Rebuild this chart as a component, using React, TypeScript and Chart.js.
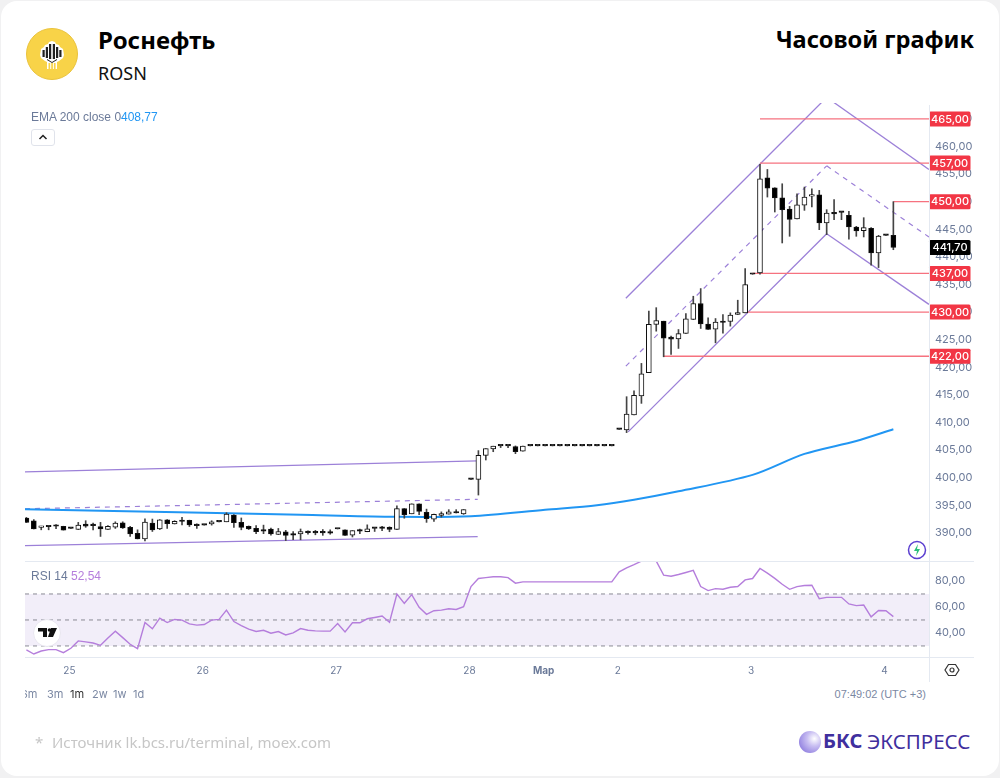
import { Chart, registerables } from 'chart.js'
import { useEffect, useRef } from 'react'

Chart.register(...registerables)

// hourly bars, index 0 is the first visible candle
const opens = [
  392.67, 392.2, 391.0, 391.1, 391.2, 391.2, 390.8, 390.6, 391.6, 391.3,
  391.15, 390.6, 391.05, 391.8, 391.0, 389.9, 388.9, 391.75, 390.7, 392.35,
  391.6, 392.05, 392.25, 391.35, 391.4, 391.6, 392.0, 392.0, 393.2, 391.9,
  391.2, 390.8, 390.4, 390.7, 389.7, 390.2, 389.6, 389.8, 390.05, 390.0,
  390.0, 389.95, 390.7, 390.55, 389.6, 390.3, 390.2, 390.8, 390.8, 391.0,
  390.6, 394.4, 393.45, 395.25, 393.7, 392.5, 393.15, 393.4, 393.75, 393.45,
  399.7, 399.7, 404.05, 405.2, 405.75, 405.75, 405.65, 404.8, 405.75, 405.75,
  405.75, 405.75, 405.75, 405.75, 405.75, 405.75, 405.75, 405.75, 405.75, 405.75,
  408.76, 408.64, 411.35, 414.79, 419.0, 427.75, 428.35, 425.46, 425.15, 426.12,
  428.65, 431.55, 427.81, 426.9, 428.11, 428.3, 429.56, 429.86, 436.85, 437.1,
  454.34, 452.53, 450.72, 448.67, 446.86, 449.39, 451.0, 451.26, 446.14, 448.07,
  448.07, 447.52, 445.42, 444.75, 445.17, 440.71, 443.9, 443.9,
]
const highs = [
  392.8, 392.4, 391.2, 391.16, 391.5, 391.2, 390.8, 391.9, 392.2, 391.75,
  391.9, 391.3, 392.0, 392.0, 391.2, 390.55, 392.55, 392.5, 392.4, 392.4,
  392.2, 392.8, 392.3, 391.65, 391.4, 392.2, 392.0, 393.65, 393.3, 392.7,
  391.25, 391.3, 391.4, 390.85, 390.8, 390.45, 390.25, 390.7, 390.35, 390.45,
  390.6, 390.55, 390.7, 390.55, 390.4, 390.7, 391.45, 390.8, 391.2, 391.1,
  394.9, 394.4, 395.25, 395.25, 394.3, 393.4, 393.8, 394.2, 394.2, 394.2,
  399.7, 404.9, 405.25, 405.7, 405.75, 405.75, 405.75, 405.7, 405.75, 405.75,
  405.75, 405.75, 405.75, 405.75, 405.75, 405.75, 405.75, 405.75, 405.75, 405.75,
  408.76, 414.67, 415.75, 420.7, 430.16, 430.8, 428.35, 425.64, 426.84, 429.74,
  432.87, 434.26, 428.95, 428.83, 429.56, 429.86, 432.15, 437.87, 436.85, 456.75,
  455.84, 452.53, 453.25, 449.15, 451.44, 452.65, 452.35, 452.05, 448.55, 450.36,
  448.07, 448.25, 445.54, 447.1, 445.3, 443.9, 443.9, 450.0,
]
const lows = [
  391.88, 390.7, 390.55, 390.55, 390.75, 390.5, 390.8, 390.6, 391.0, 390.55,
  389.35, 390.6, 390.8, 390.8, 389.35, 388.9, 388.55, 390.25, 390.6, 390.8,
  391.6, 391.45, 391.15, 390.8, 391.4, 391.4, 392.0, 392.0, 391.0, 390.55,
  390.6, 389.85, 389.85, 389.6, 389.7, 388.6, 388.75, 388.75, 389.75, 389.65,
  389.55, 389.75, 390.7, 389.55, 389.25, 389.85, 390.2, 390.25, 390.4, 390.2,
  390.6, 392.65, 393.45, 393.3, 391.9, 392.05, 392.85, 393.4, 393.6, 393.35,
  399.7, 396.85, 403.2, 404.7, 405.45, 405.45, 404.35, 404.8, 405.75, 405.75,
  405.75, 405.75, 405.75, 405.75, 405.75, 405.75, 405.75, 405.75, 405.75, 405.75,
  408.76, 408.16, 411.35, 413.46, 419.0, 426.54, 421.9, 422.32, 423.41, 426.12,
  428.65, 427.03, 426.84, 424.43, 426.18, 427.45, 429.56, 429.86, 436.85, 436.85,
  450.84, 448.13, 442.52, 443.73, 446.86, 448.43, 449.03, 444.93, 444.03, 446.74,
  446.74, 443.19, 443.73, 443.61, 438.5, 438.06, 443.9, 441.3,
]
const closes = [
  391.88, 390.7, 391.1, 391.1, 391.2, 390.5, 390.8, 391.4, 391.2, 391.3,
  390.7, 391.2, 391.75, 390.9, 389.8, 388.9, 391.95, 390.55, 392.35, 391.65,
  392.1, 392.05, 391.45, 391.3, 391.4, 392.0, 392.0, 393.4, 391.85, 391.0,
  390.7, 390.2, 390.3, 389.8, 390.25, 389.55, 389.6, 390.25, 390.05, 390.0,
  390.0, 389.95, 390.7, 389.55, 390.4, 390.3, 390.75, 390.8, 390.8, 390.6,
  394.4, 393.3, 395.25, 393.9, 392.55, 393.35, 393.5, 393.8, 393.6, 394.2,
  399.7, 404.05, 405.25, 405.7, 405.75, 405.75, 404.7, 405.7, 405.75, 405.75,
  405.75, 405.75, 405.75, 405.75, 405.75, 405.75, 405.75, 405.75, 405.75, 405.75,
  408.76, 411.53, 414.91, 418.83, 427.8, 428.47, 425.28, 425.1, 426.1, 428.77,
  431.55, 427.87, 426.84, 428.17, 428.11, 429.44, 429.92, 434.98, 436.85, 454.16,
  452.47, 450.66, 448.55, 446.8, 449.45, 450.84, 451.2, 446.14, 447.95, 447.77,
  448.07, 445.42, 444.69, 445.3, 440.71, 443.79, 443.9, 441.7,
]
const rsiValues = [
  26.9, 23.8, 26.1, 27.2, 27.2, 24.8, 28.2, 33.9, 33.1, 32.3,
  30.5, 36.2, 41.4, 36.4, 31.3, 27.9, 48.0, 43.2, 51.4, 48.0,
  50.4, 49.9, 47.0, 46.0, 46.5, 49.9, 50.4, 57.6, 48.8, 45.7,
  42.9, 41.1, 42.1, 39.8, 41.1, 38.5, 40.0, 43.4, 42.1, 41.6,
  41.4, 41.4, 47.3, 40.8, 47.8, 47.8, 50.9, 51.9, 53.0, 48.3,
  70.0, 62.8, 69.5, 59.7, 54.3, 57.1, 57.6, 58.6, 58.1, 60.2,
  75.7, 81.9, 82.6, 83.2, 83.2, 82.6, 78.3, 79.3, 79.3, 79.3,
  79.3, 79.3, 79.3, 79.3, 79.3, 79.3, 79.3, 79.3, 79.3, 79.3,
  87.0, 90.1, 92.5, 95.3, 98.0, 95.3, 84.5, 83.7, 85.0, 86.5,
  88.1, 75.7, 72.6, 74.1, 73.6, 75.2, 75.7, 80.8, 81.9, 89.6,
  86.0, 82.0, 77.5, 73.6, 75.7, 76.5, 76.7, 66.4, 67.4, 67.4,
  67.4, 62.3, 61.0, 61.5, 52.4, 57.3, 57.1, 52.54,
]

const emaBars = [-0.2, 10, 24, 37, 49, 60, 70, 77, 82, 88, 98, 105, 112, 117]
const emaValues = [394.27, 394.0, 393.64, 393.27, 392.91, 393.0, 394.18, 395.0, 395.99, 397.52, 400.5, 404.3, 406.65, 408.77]

// trend channels: [bar, price] at both ends
const solidChannels = [
  [[-0.2, 401.05], [60.9, 403.04]],
  [[-0.2, 387.67], [60.9, 389.3]],
  [[80.9, 432.5], [108, 468.9]],
  [[81.2, 408.3], [108, 444.2]],
  [[108, 468.9], [121.8, 455.84]],
  [[108, 444.2], [121.8, 431.4]],
]
const dashedChannels = [
  [[-0.2, 394.36], [60.9, 396.08]],
  [[80.9, 420.2], [108, 456.5]],
  [[108, 456.5], [121.8, 443.6]],
]

const levelPrices = [465, 457, 450, 437, 430, 422]
const levelStartBars = [99, 99, 117, 98, 97, 86]
const lastPrice = 441.7

const priceTicks = [390, 395, 400, 405, 410, 415, 420, 425, 430, 435, 440, 445, 450, 455, 460, 465]
const rsiTicks = [40, 60, 80]
const rsiLevels = [70, 50, 30]
const dayTickBars = [5.8, 23.8, 41.8, 59.8, 69.8, 79.8, 97.8, 115.8]
const dayTickLabels = ['25', '26', '27', '28', 'Мар', '2', '3', '4']
const rangeLabels = ['6m', '3m', '1m', '2w', '1w', '1d']

const X_MIN = -0.19
const X_MAX = 121.81
const AXIS_COLOR = '#6b7a99'
const PURPLE = '#9c80d8'
const RED_LINE = '#f6727f'

const fmt = (v: number) => v.toFixed(2).replace('.', ',')
const toPoints = (pairs: number[][]) => pairs.map(([x, y]) => ({ x, y }))

// axis fits without the extra margin Chart.js keeps for the end labels
const fitRightAxis = (scale: any) => {
  scale.width = 71
  scale.paddingTop = 0
  scale.paddingBottom = 0
}

const priceLabels = {
  id: 'priceLabels',
  afterDraw(chart: Chart) {
    const { ctx, scales } = chart
    const y = scales.y
    const box = (price: number, color: string) => {
      const py = y.getPixelForValue(price)
      ctx.fillStyle = color
      ctx.beginPath()
      ctx.roundRect(929, py - 7.5, 41.5, 15, 1.5)
      ctx.fill()
      ctx.fillStyle = '#fff'
      ctx.font = '500 11px Inter'
      ctx.textAlign = 'center'
      ctx.textBaseline = 'middle'
      ctx.fillText(fmt(price), 950, py + 0.5)
    }
    ctx.save()
    levelPrices.forEach((p) => box(p, '#f23645'))
    box(lastPrice, '#000')
    ctx.restore()
  },
}

function PriceChart() {
  const canvasRef = useRef<HTMLCanvasElement | null>(null)

  useEffect(() => {
    const canvas = canvasRef.current
    if (!canvas) {
      return
    }

    const isUp = (i: number) => closes[i] > opens[i]

    const chart = new Chart(canvas, {
      type: 'bar',
      data: {
        datasets: [
          {
            type: 'bar',
            data: opens.map((o, i) => ({ x: i, y: [o, closes[i]] })),
            barThickness: 5,
            minBarLength: 1.5,
            grouped: false,
            borderWidth: 1,
            borderSkipped: false,
            borderColor: '#111',
            backgroundColor: opens.map((_, i) => (isUp(i) ? '#fff' : '#000')),
            order: 1,
          },
          {
            type: 'bar',
            data: opens.map((_, i) => ({ x: i, y: [lows[i], highs[i]] })),
            barThickness: 1,
            grouped: false,
            backgroundColor: '#444',
            order: 2,
          },
          {
            type: 'line',
            data: emaBars.map((x, i) => ({ x, y: emaValues[i] })),
            borderColor: '#2196f3',
            borderWidth: 2,
            pointRadius: 0,
            tension: 0.3,
            order: 3,
          },
          ...levelPrices.map((price, i) => ({
            type: 'line' as const,
            data: [
              { x: levelStartBars[i], y: price },
              { x: X_MAX, y: price },
            ],
            borderColor: RED_LINE,
            borderWidth: 1.3,
            pointRadius: 0,
            order: 4,
          })),
          ...solidChannels.map((pairs) => ({
            type: 'line' as const,
            data: toPoints(pairs),
            borderColor: PURPLE,
            borderWidth: 1.3,
            pointRadius: 0,
            order: 5,
          })),
          ...dashedChannels.map((pairs) => ({
            type: 'line' as const,
            data: toPoints(pairs),
            borderColor: PURPLE,
            borderWidth: 1.2,
            borderDash: [5, 5],
            pointRadius: 0,
            order: 5,
          })),
        ] as any,
      },
      options: {
        animation: false,
        responsive: false,
        events: [],
        layout: { padding: { left: 25 } },
        plugins: { legend: { display: false }, tooltip: { enabled: false } },
        scales: {
          x: {
            type: 'linear',
            display: false,
            offset: false,
            min: X_MIN,
            max: X_MAX,
          },
          y: {
            position: 'right',
            min: 384.9,
            max: 467.88,
            afterFit: fitRightAxis,
            afterBuildTicks: (scale: any) => {
              scale.ticks = priceTicks.map((value) => ({ value }))
            },
            grid: { display: false, drawTicks: false },
            border: { display: false },
            ticks: {
              autoSkip: false,
              padding: 6,
              color: AXIS_COLOR,
              font: { family: 'Inter', size: 11 },
              callback: (v: any) => fmt(Number(v)),
            },
          },
        },
      },
      plugins: [priceLabels],
    })

    return () => {
      chart.destroy()
    }
  }, [])

  return <canvas ref={canvasRef} width={1000} height={458} style={{ position: 'absolute', left: 0, top: 103 }} />
}

function RsiChart() {
  const canvasRef = useRef<HTMLCanvasElement | null>(null)

  useEffect(() => {
    const canvas = canvasRef.current
    if (!canvas) {
      return
    }

    const chart = new Chart(canvas, {
      type: 'line',
      data: {
        datasets: [
          {
            data: rsiValues.map((y, x) => ({ x, y })),
            borderColor: '#b57edc',
            borderWidth: 1.4,
            pointRadius: 0,
            order: 1,
          },
          ...rsiLevels.map((level) => ({
            data: [
              { x: X_MIN, y: level },
              { x: X_MAX, y: level },
            ],
            borderColor: '#8a8a94',
            borderWidth: 1,
            borderDash: [4, 4],
            pointRadius: 0,
            order: 2,
          })),
          {
            // band between the 70 and 30 levels
            data: [
              { x: X_MIN, y: rsiLevels[0] },
              { x: X_MAX, y: rsiLevels[0] },
            ],
            borderWidth: 0,
            pointRadius: 0,
            fill: { value: rsiLevels[2] },
            backgroundColor: 'rgba(126, 87, 194, 0.1)',
            order: 3,
          },
        ] as any,
      },
      options: {
        animation: false,
        responsive: false,
        events: [],
        layout: { padding: { left: 25, top: 1 } },
        plugins: { legend: { display: false }, tooltip: { enabled: false } },
        scales: {
          x: {
            type: 'linear',
            min: X_MIN,
            max: X_MAX,
            afterFit: (scale: any) => {
              scale.height = 25
              scale.paddingLeft = 0
              scale.paddingRight = 0
            },
            afterBuildTicks: (scale: any) => {
              scale.ticks = dayTickBars.map((value) => ({ value }))
            },
            grid: { display: false, drawTicks: false },
            border: { display: false },
            ticks: {
              autoSkip: false,
              maxRotation: 0,
              padding: 8,
              color: AXIS_COLOR,
              font: (ctx: any) => ({
                family: 'Inter',
                size: 10,
                weight: dayTickLabels[ctx.index] === 'Мар' ? 'bold' : 'normal',
              }),
              callback: (_v: any, index: number) => dayTickLabels[index],
            },
          },
          y: {
            position: 'right',
            min: 21.5,
            max: 94.6,
            afterFit: fitRightAxis,
            afterBuildTicks: (scale: any) => {
              scale.ticks = rsiTicks.map((value) => ({ value }))
            },
            grid: { display: false, drawTicks: false },
            border: { display: false },
            ticks: {
              autoSkip: false,
              padding: 6,
              color: AXIS_COLOR,
              font: { family: 'Inter', size: 11 },
              callback: (v: any) => fmt(Number(v)),
            },
          },
        },
      },
    })

    return () => {
      chart.destroy()
    }
  }, [])

  return <canvas ref={canvasRef} width={1000} height={121} style={{ position: 'absolute', left: 0, top: 561 }} />
}

function Label({ x, y, size, color, weight, font, right, children }: any) {
  return (
    <div
      style={{
        position: 'absolute',
        top: y,
        ...(right !== undefined ? { right } : { left: x }),
        fontFamily: font ?? 'Inter',
        fontSize: size,
        lineHeight: 1,
        color,
        fontWeight: weight ?? 400,
        whiteSpace: 'nowrap',
      }}
    >
      {children}
    </div>
  )
}

function RosneftLogo() {
  return (
    <svg width={54} height={54} viewBox="0 0 54 54" style={{ position: 'absolute', left: 26, top: 28 }}>
      <circle cx={26} cy={26} r={25.5} fill="#f8d348" stroke="#eac33c" />
      <path d="M26 13 l3 1 1 2 3 1 1 2 3 2 1 6 -1 3 -4 3 -2 1 v7 H21 v-7 l-2 -1 -4 -3 -1 -3 1 -6 3 -2 1 -2 3 -1 1 -2z" fill="#fff" />
      <path d="M16.500 22h2.200v7h-2.200zM19.800 19h2.200v11h-2.200zM23 16h2.200v15H23zM26.800 16h2.200v15h-2.200zM30 19h2.200v11H30zM33.300 22h2.200v7h-2.200z" fill="#222" />
      <path d="M21 31 l5 3 5 -3 v1 l-5 3 -5 -3z" fill="#222" />
      <path d="M22.500 35h1.700v6h-1.700zM25.200 35h1.700v6h-1.700zM27.900 35h1.700v6h-1.700z" fill="#f8d348" />
    </svg>
  )
}

export default function App() {
  return (
    <div style={{ position: 'absolute', left: 0, top: 0, width: 1000, height: 778, background: '#f1f1f2', overflow: 'hidden' }}>
      <div style={{ position: 'absolute', left: 1, top: 1, width: 998, height: 775, background: '#fff', borderRadius: 16 }} />

      <PriceChart />
      <RsiChart />

      {/* pane borders */}
      <div style={{ position: 'absolute', left: 929, top: 105, width: 1, height: 577, background: '#e4e9f1' }} />
      <div style={{ position: 'absolute', left: 25, top: 561, width: 949, height: 1, background: '#e4e9f1' }} />
      <div style={{ position: 'absolute', left: 25, top: 657, width: 949, height: 1, background: '#e4e9f1' }} />

      <RosneftLogo />
      <Label x={98} y={28} size={24} weight={700} color="#000" font="Noto Sans">Роснефть</Label>
      <Label x={98} y={64} size={18} color="#111" font="Noto Sans">ROSN</Label>
      <Label right={26} y={28} size={23.6} weight={700} color="#000" font="Noto Sans">Часовой график</Label>

      <Label x={31} y={111} size={12} color={AXIS_COLOR} font="Liberation Sans">EMA 200 close 0</Label>
      <Label x={121} y={111} size={12} color="#2196f3" font="Liberation Sans">408,77</Label>
      <div style={{ position: 'absolute', left: 31, top: 129, width: 24, height: 17, border: '1px solid #e0e3eb', borderRadius: 3, boxSizing: 'border-box', background: '#fff' }}>
        <svg width={22} height={15} viewBox="0 0 22 15">
          <path d="M7.500 9 L11 5.500 L14.500 9" fill="none" stroke="#222" strokeWidth={1.5} />
        </svg>
      </div>

      <Label x={31} y={570} size={12} color={AXIS_COLOR} font="Liberation Sans">RSI 14</Label>
      <Label x={71} y={570} size={12} color="#b57edc" font="Liberation Sans">52,54</Label>

      <svg width={30} height={30} viewBox="0 0 30 30" style={{ position: 'absolute', left: 32, top: 618 }}>
        <circle cx={15} cy={15} r={13.500} fill="#fff" stroke="#e8e6ef" />
        <path d="M6 10h9v9h-4v-5.500H6zM19 10h6l-4 9h-5z" fill="#111" />
        <circle cx={17.500} cy={12} r={1.800} fill="#111" />
      </svg>

      <svg width={20} height={20} viewBox="0 0 20 20" style={{ position: 'absolute', left: 907, top: 540 }}>
        <circle cx={10} cy={10} r={8.500} fill="#fff" stroke="#5b3fd0" strokeWidth={1.500} />
        <path d="M11 4 L7 11 h3 l-1 5 l4 -7 h-3z" fill="#2bbf7a" />
      </svg>

      <svg width={16} height={16} viewBox="0 0 16 16" style={{ position: 'absolute', left: 944, top: 662 }}>
        <path d="M4.500 2.500h7L15 8l-3.500 5.500h-7L1 8z" fill="none" stroke="#333" strokeWidth={1.200} />
        <circle cx={8} cy={8} r={2} fill="none" stroke="#333" strokeWidth={1.200} />
      </svg>

      {/* range buttons, the first one is cut off by the chart's edge */}
      <div style={{ position: 'absolute', left: 25, top: 688, width: 130, height: 14, overflow: 'hidden' }}>
        {rangeLabels.map((label, i) => (
          <Label key={label} x={[-4, 22, 45, 67, 88, 108][i]} y={1} size={11} color={label === '1m' ? '#333' : '#7b88a3'}>
            {label}
          </Label>
        ))}
      </div>
      <Label right={74} y={689} size={11} color="#7b88a3" font="Liberation Sans">07:49:02 (UTC +3)</Label>

      <Label x={35} y={735} size={15} color="#c6c6c6" font="Noto Sans">*</Label>
      <Label x={52} y={735} size={15} color="#c6c6c6" font="Noto Sans">Источник lk.bcs.ru/terminal, moex.com</Label>

      <div
        style={{
          position: 'absolute',
          left: 799,
          top: 731,
          width: 22,
          height: 22,
          borderRadius: 11,
          background: 'radial-gradient(circle at 70% 35%, #ffffff 0%, #c9bff2 35%, #7a66d8 100%)',
        }}
      />
      <Label x={823} y={731} size={20} weight={700} color="#3f2f9e" font="Noto Sans">БКС</Label>
      <Label x={867} y={731} size={20.500} color="#3f2f9e" font="Noto Sans">ЭКСПРЕСС</Label>
    </div>
  )
}
